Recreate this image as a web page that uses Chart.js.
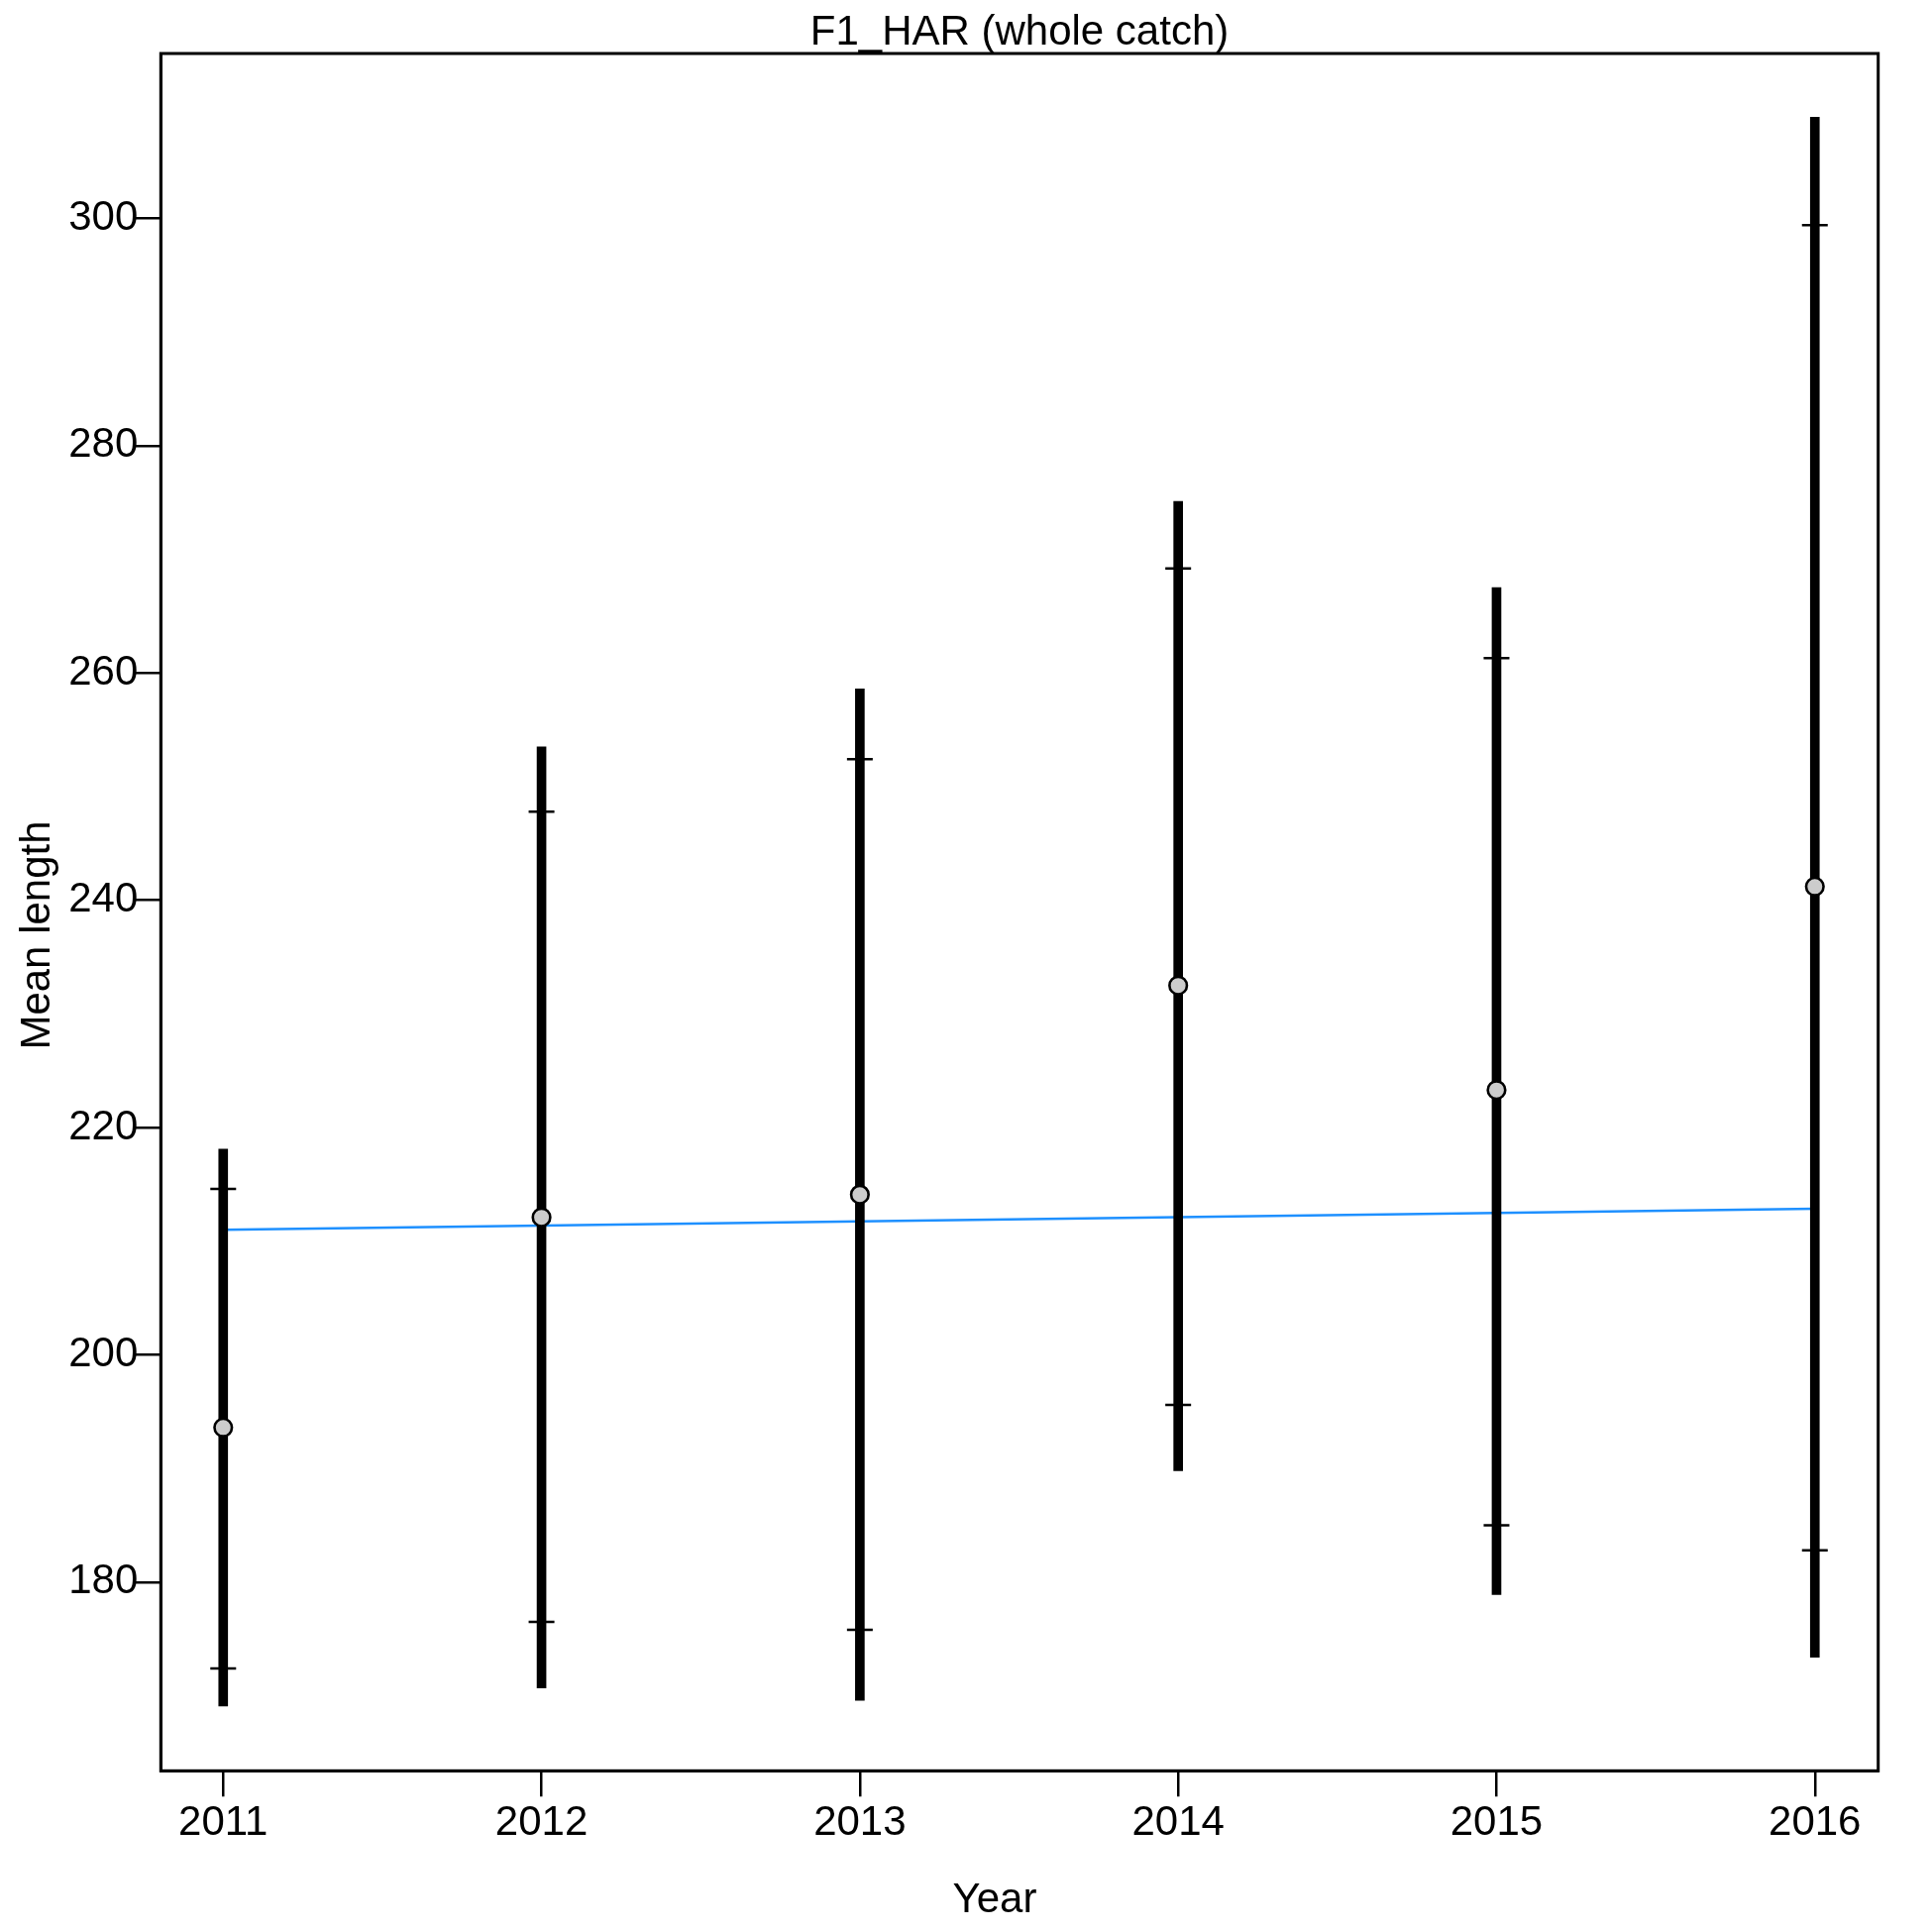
<!DOCTYPE html>
<html>
<head>
<meta charset="utf-8">
<script src="https://cdn.jsdelivr.net/npm/chart.js@4.4.1/dist/chart.umd.min.js"></script>
<style>
  html,body{margin:0;padding:0;background:#fff;}
  #wrap{width:1950px;height:1950px;}
</style>
</head>
<body>
<div id="wrap"><canvas id="chart" width="1950" height="1950"></canvas></div>
<script>
// data
const years = [2011, 2012, 2013, 2014, 2015, 2016];
const lowerOuter = [169.1, 170.7, 169.6, 189.8, 178.9, 173.4];
const upperOuter = [218.1, 253.5, 258.6, 275.1, 267.5, 308.9];
const lowerInner = [172.4, 176.5, 175.8, 195.6, 185.0, 182.8];
const upperInner = [214.6, 247.8, 252.4, 269.2, 261.3, 299.4];
const means = [193.6, 212.1, 214.1, 232.5, 223.3, 241.2];
const trendYears = [2011, 2016];
const trendValues = [211.0, 212.85];
const yTicks = [180, 200, 220, 240, 260, 280, 300];

const FONT = '"Liberation Sans", Arial, sans-serif';

// frame + axis titles
const frame = {
  id: 'frame',
  afterDraw(c){
    const {ctx, chartArea:a} = c;
    ctx.save();
    ctx.strokeStyle = '#000'; ctx.lineWidth = 3;
    ctx.strokeRect(a.left, a.top, a.right-a.left, a.bottom-a.top);
    ctx.fillStyle = '#000';
    ctx.font = '42px ' + FONT;
    ctx.textAlign = 'center'; ctx.textBaseline = 'alphabetic';
    ctx.fillText('Year', 1004, 1930);
    ctx.translate(50, 944); ctx.rotate(-Math.PI/2);
    ctx.fillText('Mean length', 0, 0);
    ctx.restore();
  }
};

const pts = (arr) => years.map((x,i)=>({x, y: arr[i]}));

new Chart(document.getElementById('chart'), {
  type: 'scatter',
  data: {
    datasets: [
      { type:'line', data: trendYears.map((x,i)=>({x, y: trendValues[i]})), borderColor:'#1E90FF', borderWidth:2.4, pointRadius:0, fill:false, order:4 },
      { type:'bar', data: years.map((x,i)=>({x, y:[lowerOuter[i], upperOuter[i]]})), backgroundColor:'#000', barThickness:9, borderWidth:0, order:3 },
      { data: pts(lowerInner).concat(pts(upperInner)), pointStyle:'line', pointRadius:13, borderColor:'#000', borderWidth:2.5, order:2 },
      { data: pts(means), pointStyle:'circle', pointRadius:8.8, backgroundColor:'#cccccc', borderColor:'#000', borderWidth:2.6, order:1 }
    ]
  },
  options: {
    responsive:false, animation:false, devicePixelRatio:1,
    layout:{ padding:{ left:0, top:0, right:54.3, bottom:0 } },
    plugins:{
      legend:{display:false}, tooltip:{enabled:false},
      title:{ display:true, fullSize:false, text:'F1_HAR (whole catch)', color:'#000',
        font:{ family:FONT, size:42, weight:'normal', lineHeight:1 }, padding:{top:12, bottom:0} }
    },
    scales:{
      x:{
        type:'linear', min:2010.804, max:2016.199, offset:false,
        afterBuildTicks: s => { s.ticks = years.map(v=>({value:v})); },
        afterFit: s => { s.height = 162.7; },
        ticks:{ color:'#000', font:{family:FONT, size:42}, padding:2, maxRotation:0, callback: v => String(v) },
        grid:{ display:true, drawOnChartArea:false, drawTicks:true, tickLength:26, color:'#000', lineWidth:2.5, offset:false },
        border:{ display:true, color:'#000', width:3 }
      },
      y:{
        type:'linear', min:163.4, max:314.5,
        afterBuildTicks: s => { s.ticks = yTicks.map(v=>({value:v})); },
        afterFit: s => { s.width = 162.3; },
        ticks:{ color:'#000', font:{family:FONT, size:42}, padding:-3, callback: v => String(v) },
        grid:{ display:true, drawOnChartArea:false, drawTicks:true, tickLength:26, color:'#000', lineWidth:2.5 },
        border:{ display:true, color:'#000', width:3 }
      }
    }
  },
  plugins:[frame]
});
</script>
</body>
</html>
